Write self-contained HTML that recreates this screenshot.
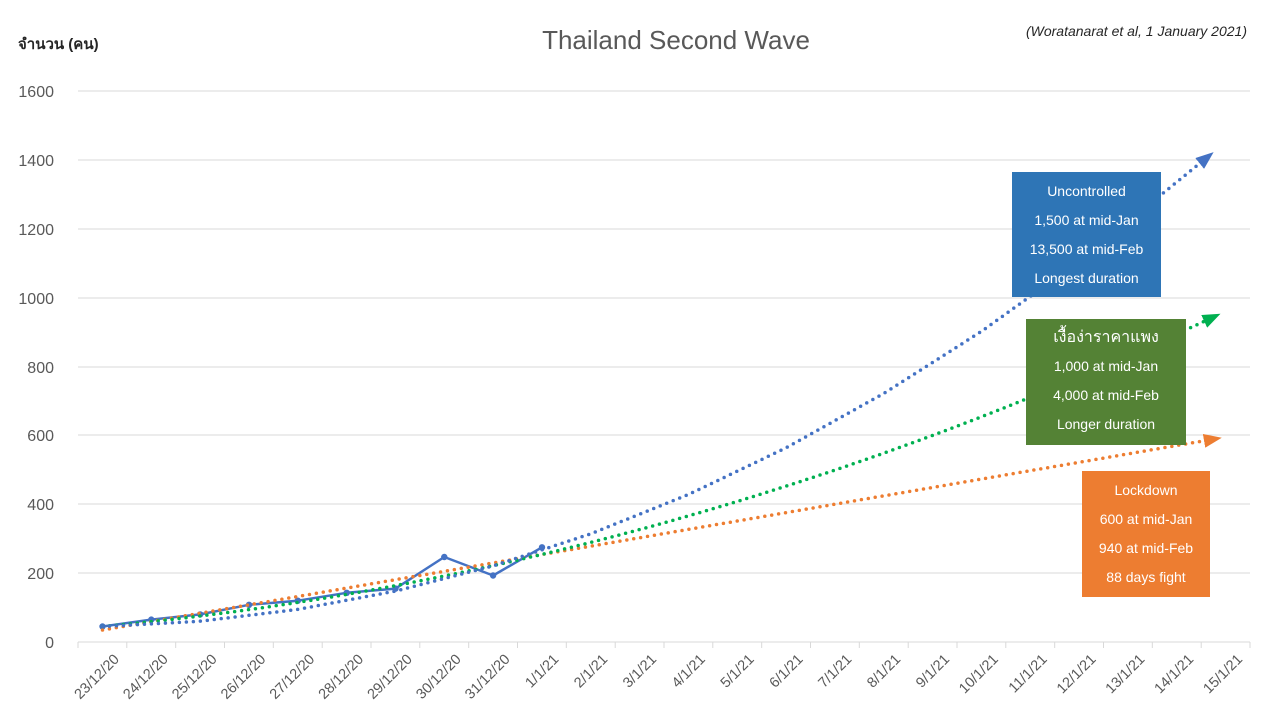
<!DOCTYPE html>
<html><head><meta charset="utf-8"><style>
html,body{margin:0;padding:0;background:#fff;}
svg{display:block;font-family:"Liberation Sans",sans-serif;}
</style></head><body>
<svg width="1280" height="720" viewBox="0 0 1280 720" xmlns="http://www.w3.org/2000/svg">
<defs>
<marker id="ab" markerUnits="userSpaceOnUse" markerWidth="20" markerHeight="14" refX="2" refY="7" orient="auto"><path d="M0,0 L18,7 L0,14 z" fill="#4472c4"/></marker>
<marker id="ag" markerUnits="userSpaceOnUse" markerWidth="20" markerHeight="14" refX="2" refY="7" orient="auto"><path d="M0,0 L18,7 L0,14 z" fill="#00b050"/></marker>
<marker id="ao" markerUnits="userSpaceOnUse" markerWidth="20" markerHeight="14" refX="2" refY="7" orient="auto"><path d="M0,0 L18,7 L0,14 z" fill="#ed7d31"/></marker>
</defs>
<text x="676" y="49" text-anchor="middle" font-size="26" fill="#595959">Thailand Second Wave</text>
<text x="18" y="49" font-size="15" font-weight="bold" fill="#262626">จำนวน (คน)</text>
<text x="1247" y="36" text-anchor="end" font-size="14" font-style="italic" fill="#262626">(Woratanarat et al, 1 January 2021)</text>
<g stroke="#d9d9d9" stroke-width="1">
<line x1="78" y1="91" x2="1250" y2="91"/><line x1="78" y1="160" x2="1250" y2="160"/><line x1="78" y1="229" x2="1250" y2="229"/><line x1="78" y1="298" x2="1250" y2="298"/><line x1="78" y1="367" x2="1250" y2="367"/><line x1="78" y1="435" x2="1250" y2="435"/><line x1="78" y1="504" x2="1250" y2="504"/><line x1="78" y1="573" x2="1250" y2="573"/><line x1="78" y1="642" x2="1250" y2="642"/>
</g>
<g stroke="#d9d9d9" stroke-width="1">
<line x1="78" y1="642" x2="78" y2="648"/><line x1="126.8" y1="642" x2="126.8" y2="648"/><line x1="175.7" y1="642" x2="175.7" y2="648"/><line x1="224.5" y1="642" x2="224.5" y2="648"/><line x1="273.3" y1="642" x2="273.3" y2="648"/><line x1="322.2" y1="642" x2="322.2" y2="648"/><line x1="371" y1="642" x2="371" y2="648"/><line x1="419.8" y1="642" x2="419.8" y2="648"/><line x1="468.7" y1="642" x2="468.7" y2="648"/><line x1="517.5" y1="642" x2="517.5" y2="648"/><line x1="566.3" y1="642" x2="566.3" y2="648"/><line x1="615.2" y1="642" x2="615.2" y2="648"/><line x1="664" y1="642" x2="664" y2="648"/><line x1="712.8" y1="642" x2="712.8" y2="648"/><line x1="761.7" y1="642" x2="761.7" y2="648"/><line x1="810.5" y1="642" x2="810.5" y2="648"/><line x1="859.3" y1="642" x2="859.3" y2="648"/><line x1="908.2" y1="642" x2="908.2" y2="648"/><line x1="957" y1="642" x2="957" y2="648"/><line x1="1005.8" y1="642" x2="1005.8" y2="648"/><line x1="1054.7" y1="642" x2="1054.7" y2="648"/><line x1="1103.5" y1="642" x2="1103.5" y2="648"/><line x1="1152.3" y1="642" x2="1152.3" y2="648"/><line x1="1201.2" y1="642" x2="1201.2" y2="648"/><line x1="1250" y1="642" x2="1250" y2="648"/>
</g>
<g font-size="16" fill="#595959" text-anchor="end">
<text x="54" y="97">1600</text><text x="54" y="166">1400</text><text x="54" y="235">1200</text><text x="54" y="304">1000</text><text x="54" y="373">800</text><text x="54" y="441">600</text><text x="54" y="510">400</text><text x="54" y="579">200</text><text x="54" y="648">0</text>
</g>
<g font-size="14.5" fill="#595959" text-anchor="end">
<text transform="translate(120,660) rotate(-45)">23/12/20</text>
<text transform="translate(168.8,660) rotate(-45)">24/12/20</text>
<text transform="translate(217.7,660) rotate(-45)">25/12/20</text>
<text transform="translate(266.5,660) rotate(-45)">26/12/20</text>
<text transform="translate(315.3,660) rotate(-45)">27/12/20</text>
<text transform="translate(364.2,660) rotate(-45)">28/12/20</text>
<text transform="translate(413,660) rotate(-45)">29/12/20</text>
<text transform="translate(461.8,660) rotate(-45)">30/12/20</text>
<text transform="translate(510.7,660) rotate(-45)">31/12/20</text>
<text transform="translate(559.5,660) rotate(-45)">1/1/21</text>
<text transform="translate(608.3,660) rotate(-45)">2/1/21</text>
<text transform="translate(657.2,660) rotate(-45)">3/1/21</text>
<text transform="translate(706,660) rotate(-45)">4/1/21</text>
<text transform="translate(754.8,660) rotate(-45)">5/1/21</text>
<text transform="translate(803.7,660) rotate(-45)">6/1/21</text>
<text transform="translate(852.5,660) rotate(-45)">7/1/21</text>
<text transform="translate(901.3,660) rotate(-45)">8/1/21</text>
<text transform="translate(950.2,660) rotate(-45)">9/1/21</text>
<text transform="translate(999,660) rotate(-45)">10/1/21</text>
<text transform="translate(1047.8,660) rotate(-45)">11/1/21</text>
<text transform="translate(1096.7,660) rotate(-45)">12/1/21</text>
<text transform="translate(1145.5,660) rotate(-45)">13/1/21</text>
<text transform="translate(1194.3,660) rotate(-45)">14/1/21</text>
<text transform="translate(1243.2,660) rotate(-45)">15/1/21</text>
</g>
<polyline fill="none" stroke="#4472c4" stroke-width="2.5" stroke-linejoin="round" points="102.5,626.5 151.3,619.6 200.2,614.4 249,604.8 297.8,600.7 346.7,592.8 395.5,588.6 444.3,557 493.1,575.5 542,547.3"/>
<g fill="#4472c4">
<circle cx="102.5" cy="626.5" r="3.2"/><circle cx="151.3" cy="619.6" r="3.2"/><circle cx="200.2" cy="614.4" r="3.2"/><circle cx="249" cy="604.8" r="3.2"/><circle cx="297.8" cy="600.7" r="3.2"/><circle cx="346.7" cy="592.8" r="3.2"/><circle cx="395.5" cy="588.6" r="3.2"/><circle cx="444.3" cy="557" r="3.2"/><circle cx="493.1" cy="575.5" r="3.2"/><circle cx="542" cy="547.3" r="3.2"/>
</g>
<g fill="none" stroke-width="3.5" stroke-linecap="round" stroke-dasharray="0 7" stroke-linejoin="round">
<path d="M102.5,630 L1206,440.5" stroke="#ed7d31" marker-end="url(#ao)"/>
<path d="M102.5,626.5 Q661.6,575.5 1206,320.5" stroke="#00b050" marker-end="url(#ag)"/>
<polyline points="102.5,626.5 200.2,621.2 297.8,609.4 395.5,591.1 493.1,565.9 590.8,533.8 688.5,494.5 786.1,447.8 883.8,393.4 981.4,331.4 1079.1,261.3 1201.2,162.2" stroke="#4472c4" marker-end="url(#ab)"/>
</g>
<g font-size="14" fill="#fff" text-anchor="middle">
<rect x="1012" y="172" width="149" height="125" fill="#2e75b6"/>
<text x="1086.5" y="196">Uncontrolled</text><text x="1086.5" y="225">1,500 at mid-Jan</text><text x="1086.5" y="254">13,500 at mid-Feb</text><text x="1086.5" y="283">Longest duration</text>
<rect x="1026" y="319" width="160" height="126" fill="#548235"/>
<text x="1106" y="342" font-size="16">เงื้อง่าราคาแพง</text><text x="1106" y="371">1,000 at mid-Jan</text><text x="1106" y="400">4,000 at mid-Feb</text><text x="1106" y="429">Longer duration</text>
<rect x="1082" y="471" width="128" height="126" fill="#ed7d31"/>
<text x="1146" y="495">Lockdown</text><text x="1146" y="524">600 at mid-Jan</text><text x="1146" y="553">940 at mid-Feb</text><text x="1146" y="582">88 days fight</text>
</g>
</svg>
</body></html>
